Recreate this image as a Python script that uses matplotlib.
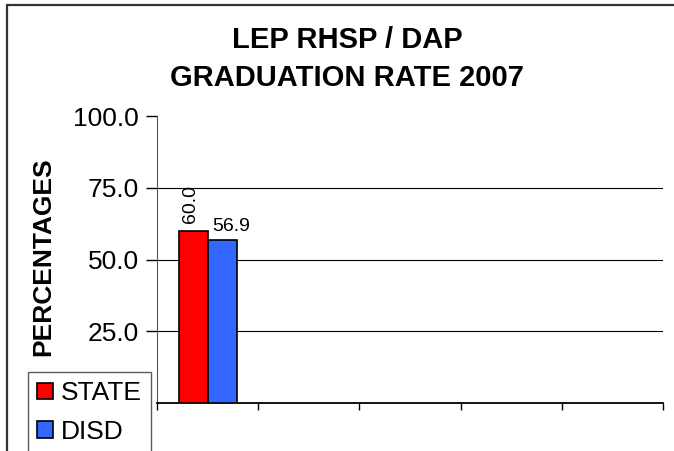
import numpy as np
import matplotlib.pyplot as plt
from matplotlib.patches import Rectangle, Patch

plt.rcParams['font.family'] = ['Liberation Sans', 'DejaVu Sans']

# data
series = ['STATE', 'DISD']
state = [60.0]
disd = [56.9]
n_slots = 5
y_ticks = [25.0, 50.0, 75.0, 100.0]

_RED = '#ff0000'
_BLUE = '#3366ff'

W, H = 674, 451
fig = plt.figure(figsize=(W / 100, H / 100), dpi=100)
fig.patch.set_facecolor('white')

# outer chart frame (runs past the right/bottom edge)
fig.patches.append(Rectangle((7 / W, -0.05), 1.1, 1 - 5 / H + 0.05,
                             transform=fig.transFigure, fill=False,
                             edgecolor='#333333', lw=1.6, zorder=0))

ax = fig.add_axes([157 / W, 1 - 403 / H, (663 - 157) / W, (403 - 116) / H])
ax.set_xlim(0, n_slots)
ax.set_ylim(0, 100)

bw = 0.287
x = np.arange(len(state)) + 0.5
b1 = ax.bar(x - bw / 2, state, bw, color=_RED, edgecolor='black', lw=1.2, zorder=3)
b2 = ax.bar(x + bw / 2, disd, bw, color=_BLUE, edgecolor='black', lw=1.2, zorder=3)

for bar, v in zip(b1, state):
    ax.text(bar.get_x() + bar.get_width() / 2 - 0.03, v + 2.6, f'{v:.1f}',
            rotation=90, ha='center', va='bottom', fontsize=14)
for bar, v in zip(b2, disd):
    ax.text(bar.get_x() + bar.get_width() / 2 + 0.09, v + 1.8, f'{v:.1f}',
            ha='center', va='bottom', fontsize=14)

ax.set_yticks(y_ticks)
ax.set_yticklabels([f'{t:.1f}' for t in y_ticks], fontsize=19)
ax.set_xticks(np.arange(n_slots + 1))
ax.set_xticklabels([])
ax.tick_params(axis='y', direction='out', length=8, width=1, pad=5)
ax.tick_params(axis='x', direction='out', length=5, width=1)
for t in y_ticks[:-1]:
    ax.axhline(t, color='black', lw=0.8, zorder=1)

for s in ['top', 'right']:
    ax.spines[s].set_visible(False)
ax.spines['left'].set_color('#555555')
ax.spines['bottom'].set_color('black')
ax.spines['bottom'].set_linewidth(1.3)

ax.set_ylabel('PERCENTAGES', fontsize=19, fontweight='bold')
ax.yaxis.set_label_coords(-0.2016, 0.51)

fig.text(347 / W, 1 - 40 / H, 'LEP RHSP / DAP', ha='center', va='center',
         fontsize=21, fontweight='bold')
fig.text(347 / W, 1 - 78 / H, 'GRADUATION RATE 2007', ha='center', va='center',
         fontsize=21, fontweight='bold')

handles = [Patch(facecolor=_RED, edgecolor='black', lw=1.2),
           Patch(facecolor=_BLUE, edgecolor='black', lw=1.2)]
leg = fig.legend(handles, series, loc='upper left',
                 bbox_to_anchor=(28 / W, 1 - 372 / H), fontsize=19,
                 frameon=True, fancybox=False, borderpad=0.35,
                 handlelength=0.6, handleheight=0.6, handletextpad=0.3,
                 labelspacing=0.55, borderaxespad=0)
leg.get_frame().set_edgecolor('#333333')
leg.get_frame().set_linewidth(1.0)

fig.savefig('out.png', dpi=100)
